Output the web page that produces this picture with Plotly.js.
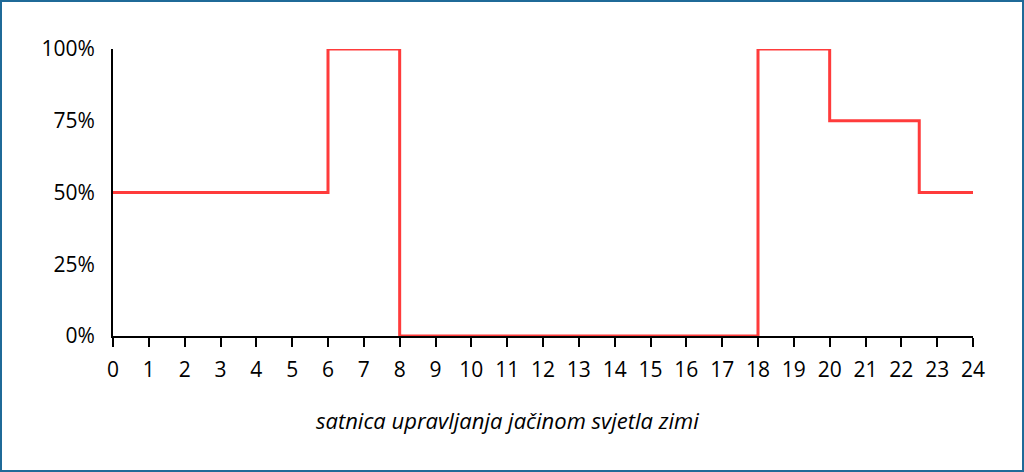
<!DOCTYPE html>
<html>
<head>
<meta charset="utf-8">
<script src="https://cdn.plot.ly/plotly-3.0.1.min.js"></script>
<style>
html,body{margin:0;padding:0;background:#fff;}
#wrap{width:1024px;height:472px;box-sizing:border-box;border:2px solid #1f6a98;position:relative;overflow:hidden;}
#chart{position:absolute;left:-2px;top:-2px;width:1024px;height:472px;}
</style>
</head>
<body>
<div id="wrap"><div id="chart"></div></div>
<script>
const hours = [0, 6, 8, 18, 20, 22.5, 24];
const intensity = [50, 100, 0, 100, 75, 50, 50];
const xTicks = [0,1,2,3,4,5,6,7,8,9,10,11,12,13,14,15,16,17,18,19,20,21,22,23,24];
const yTicks = [0, 25, 50, 75, 100];
const xTitle = "satnica upravljanja jačinom svjetla zimi";

const font = {family: "'Open Sans', 'Noto Sans', sans-serif", size: 21, color: '#000'};

Plotly.newPlot('chart', [{
  x: hours, y: intensity, type: 'scatter', mode: 'lines',
  line: {shape: 'hv', color: '#ff3b3b', width: 3},
  hoverinfo: 'skip', showlegend: false
}], {
  width: 1024, height: 472,
  margin: {l: 113, r: 51, t: 49, b: 136},
  paper_bgcolor: '#fff', plot_bgcolor: '#fff',
  font: font,
  xaxis: {
    range: [0, 24], tickvals: xTicks, ticktext: xTicks.map(String),
    showgrid: false, zeroline: false, showline: true, linecolor: '#000', linewidth: 2,
    ticks: 'outside', ticklen: 9, tickwidth: 2, tickcolor: '#000',
    tickfont: font, ticklabelstandoff: 5
  },
  yaxis: {
    range: [0, 100], tickvals: yTicks, ticktext: yTicks.map(v => v + '%'),
    showgrid: false, zeroline: false, showline: true, linecolor: '#000', linewidth: 2,
    ticks: '', tickfont: font, ticklabelstandoff: 12
  },
  annotations: [{
    text: xTitle, xref: 'paper', yref: 'paper', x: 0.459, y: -0.293,
    xanchor: 'center', yanchor: 'middle', showarrow: false,
    font: {family: font.family, size: 22, color: '#000', style: 'italic'}
  }],
  shapes: [{
    type: 'line', xref: 'x', yref: 'y', x0: -0.28, x1: 0, y0: 0, y1: 0,
    line: {color: '#000', width: 2}
  }]
}, {staticPlot: true, displayModeBar: false});
</script>
</body>
</html>
